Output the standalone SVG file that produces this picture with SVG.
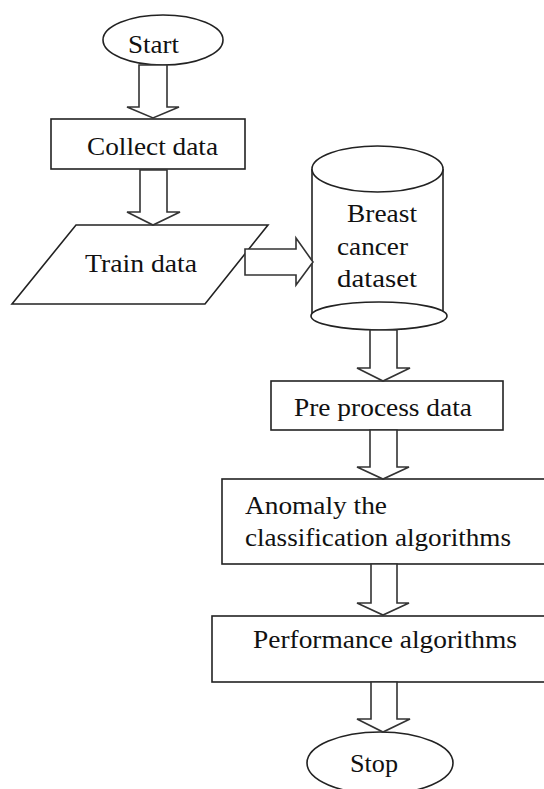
<svg xmlns="http://www.w3.org/2000/svg" width="544" height="789" viewBox="0 0 544 789">
<style>
.s{fill:#fff;stroke:#222;stroke-width:1.6}
.a{fill:#fff;stroke:#333;stroke-width:1.6;stroke-linejoin:miter}
.t{font-family:"Liberation Serif","Times New Roman",serif;font-size:25px;fill:#111}
</style>
<rect width="544" height="789" fill="#fff"/>
<g id="start"><ellipse class="s" cx="163" cy="40" rx="60" ry="25"/><text class="t" x="128" y="53" textLength="51" lengthAdjust="spacingAndGlyphs">Start</text></g>
<g id="collect"><rect class="s" x="51" y="119" width="194" height="50"/><text class="t" x="87" y="155" textLength="131" lengthAdjust="spacingAndGlyphs">Collect data</text></g>
<g id="train"><polygon class="s" points="76,225 268,225 205,304 12,304"/><text class="t" x="85" y="272" textLength="112" lengthAdjust="spacingAndGlyphs">Train data</text></g>
<g id="dataset">
<rect x="312" y="169" width="131" height="147" fill="#fff"/>
<path d="M312,169 L312,316 M443,169 L443,316" fill="none" stroke="#222" stroke-width="1.6"/>
<ellipse class="s" cx="377.5" cy="169" rx="65.5" ry="23"/>
<ellipse class="s" cx="379" cy="316" rx="68" ry="14"/>
<text class="t" x="347" y="222" textLength="70" lengthAdjust="spacingAndGlyphs">Breast</text>
<text class="t" x="337" y="255" textLength="71" lengthAdjust="spacingAndGlyphs">cancer</text>
<text class="t" x="337" y="287" textLength="80" lengthAdjust="spacingAndGlyphs">dataset</text>
</g>
<g id="preprocess"><rect class="s" x="271" y="381" width="232" height="49"/><text class="t" x="294" y="416" textLength="178" lengthAdjust="spacingAndGlyphs">Pre process data</text></g>
<g id="anomaly"><rect class="s" x="222" y="479" width="340" height="85"/><text class="t" x="245" y="514" textLength="142" lengthAdjust="spacingAndGlyphs">Anomaly the</text><text class="t" x="245" y="546" textLength="266" lengthAdjust="spacingAndGlyphs">classification algorithms</text></g>
<g id="performance"><rect class="s" x="212" y="616" width="350" height="66"/><text class="t" x="253" y="648" textLength="264" lengthAdjust="spacingAndGlyphs">Performance algorithms</text></g>
<g id="stop"><ellipse class="s" cx="380" cy="763" rx="73" ry="31"/><text class="t" x="350" y="772" textLength="48" lengthAdjust="spacingAndGlyphs">Stop</text></g>
<g id="connectors">
<polygon class="a" points="139,65 167,65 167,107 179,107 153,118 127,107 139,107"/>
<polygon class="a" points="140,170 167,170 167,212 180,212 153,225 127,212 140,212"/>
<polygon class="a" points="245,249 296,249 296,238 313,262 296,285 296,275 245,275"/>
<polygon class="a" points="370,330 397,330 397,368 410,368 383,381 357,368 370,368"/>
<polygon class="a" points="370,430 397,430 397,467 409,467 383,479 357,467 370,467"/>
<polygon class="a" points="371,564 397,564 397,603 409,603 383,615 357,603 371,603"/>
<polygon class="a" points="371,682 397,682 397,719 410,719 383,732 357,719 371,719"/>
</g>
</svg>
